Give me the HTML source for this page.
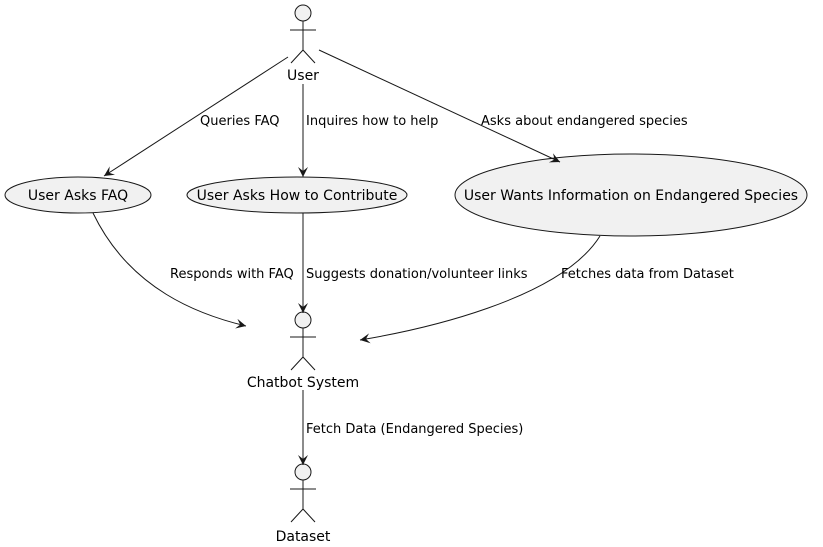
<!DOCTYPE html>
<html><head><style>body{margin:0;background:#fff}svg{display:block}text{font-family:"DejaVu Sans","Liberation Sans",sans-serif;fill:#000}</style></head><body>
<svg width="823" height="547" viewBox="0 0 823 547">
<defs><marker id="a" markerWidth="12" markerHeight="12" refX="10" refY="5" orient="auto" markerUnits="userSpaceOnUse"><path d="M0,0 L10,5 L0,10 L4,5 Z" fill="#181818"/></marker></defs>
<g stroke="#181818" stroke-width="1" fill="none">
<g><circle cx="303" cy="13" r="8" fill="#f1f1f1"/><path d="M303,21V50M290,30H316M303,50L291,63M303,50L315,63"/></g>
<g transform="translate(0,307)"><circle cx="303" cy="13" r="8" fill="#f1f1f1"/><path d="M303,21V50M290,30H316M303,50L291,63M303,50L315,63"/></g>
<g transform="translate(0,459)"><circle cx="303" cy="13" r="8" fill="#f1f1f1"/><path d="M303,21V50M290,30H316M303,50L291,63M303,50L315,63"/></g>
<ellipse cx="78" cy="195" rx="73" ry="18" fill="#f1f1f1"/>
<ellipse cx="297" cy="195" rx="110" ry="18" fill="#f1f1f1"/>
<ellipse cx="631" cy="195" rx="176" ry="41" fill="#f1f1f1"/>
<path d="M288,57L104,176" marker-end="url(#a)"/>
<path d="M303,84V177" marker-end="url(#a)"/>
<path d="M319,50L560,162" marker-end="url(#a)"/>
<path d="M93,213C130,290 200,315 246,326" marker-end="url(#a)"/>
<path d="M303,213V313" marker-end="url(#a)"/>
<path d="M600,236C560,300 420,330 360,340" marker-end="url(#a)"/>
<path d="M303,390V465" marker-end="url(#a)"/>
</g>
<g font-size="13">
<text x="303" y="80" text-anchor="middle" font-size="14">User</text>
<text x="303" y="387" text-anchor="middle" font-size="14">Chatbot System</text>
<text x="303" y="541" text-anchor="middle" font-size="14">Dataset</text>
<text x="78" y="200" text-anchor="middle" font-size="14">User Asks FAQ</text>
<text x="297" y="200" text-anchor="middle" font-size="14">User Asks How to Contribute</text>
<text x="631" y="200" text-anchor="middle" font-size="14">User Wants Information on Endangered Species</text>
<text x="200" y="125">Queries FAQ</text>
<text x="306" y="125">Inquires how to help</text>
<text x="481" y="125">Asks about endangered species</text>
<text x="170" y="278">Responds with FAQ</text>
<text x="306" y="278">Suggests donation/volunteer links</text>
<text x="561" y="278">Fetches data from Dataset</text>
<text x="306" y="433">Fetch Data (Endangered Species)</text>
</g>
</svg></body></html>
